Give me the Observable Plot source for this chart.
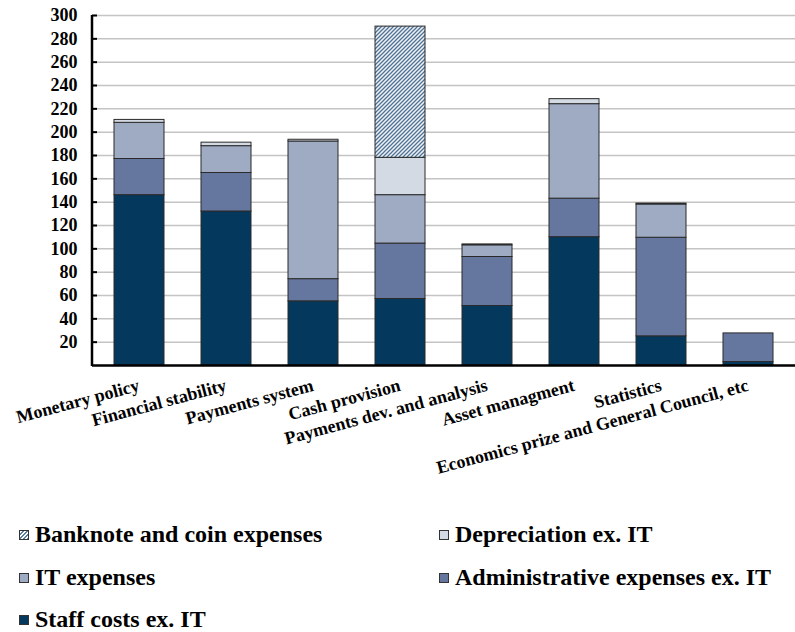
<!DOCTYPE html>
<html>
<head>
<meta charset="utf-8">
<script src="https://cdn.jsdelivr.net/npm/d3@7"></script>
<script src="https://cdn.jsdelivr.net/npm/@observablehq/plot@0.6"></script>
<style>
  html, body { margin: 0; padding: 0; background: #fff; }
  body { width: 795px; height: 632px; position: relative; overflow: hidden;
         font-family: "Liberation Serif", Tinos, "DejaVu Serif", serif; }
  #chart { position: absolute; left: 0; top: 0; }
  .lg-item { position: absolute; font-size: 24px; font-weight: bold; color: #000; line-height: 1; white-space: nowrap; }
  .lg-sw { position: absolute; width: 10px; height: 10px; border: 1px solid #333; box-sizing: border-box; }
</style>
</head>
<body>
<div id="chart"></div>
<div id="legend"></div>
<script>
const categories = [
  "Monetary policy",
  "Financial stability",
  "Payments system",
  "Cash provision",
  "Payments dev. and analysis",
  "Asset managment",
  "Statistics",
  "Economics prize and General Council, etc"
];
const seriesNames = [
  "Staff costs ex. IT",
  "Administrative expenses ex. IT",
  "IT expenses",
  "Depreciation ex. IT",
  "Banknote and coin expenses"
];
const staffCosts     = [146, 132, 55, 57, 51, 110, 25, 3];
const adminExpenses  = [31, 33, 19, 47.5, 42, 33, 84.5, 24.5];
const itExpenses     = [31, 23, 118, 41.5, 10, 81, 28.5, 0];
const depreciation   = [2.5, 3, 1.5, 32, 0.8, 4.3, 0.8, 0];
const banknoteCoin   = [0, 0, 0, 112.5, 0, 0, 0, 0];
const seriesValues = [staffCosts, adminExpenses, itExpenses, depreciation, banknoteCoin];
const seriesColors = ["#04385c", "#65779e", "#9eabc2", "#d4dae3", "url(#hatch)"];
const yTicks = [20, 40, 60, 80, 100, 120, 140, 160, 180, 200, 220, 240, 260, 280, 300];

const data = seriesNames.flatMap((s, i) =>
  categories.map((c, j) => ({category: c, series: s, value: seriesValues[i][j]}))
).filter(d => d.value > 0);

const FONT = '"Liberation Serif", Tinos, "DejaVu Serif", serif';

const svg = Plot.plot({
  width: 795,
  height: 480,
  marginTop: 15,
  marginBottom: 115,
  marginLeft: 92,
  marginRight: 0,
  style: {fontFamily: FONT, background: "white", overflow: "visible"},
  x: {domain: categories, paddingInner: 0.43, paddingOuter: 0.215, axis: null},
  y: {domain: [0, 300], axis: null},
  color: {type: "ordinal", domain: seriesNames, range: seriesColors},
  marks: [
    Plot.gridY(yTicks, {stroke: "#c4c4c4", strokeOpacity: 1, strokeWidth: 1.5}),
    Plot.barY(data, {x: "category", y: "value", fill: "series", order: seriesNames,
                     stroke: "#2a2a2a", strokeWidth: 1}),
    Plot.axisY({ticks: yTicks, tickSize: 0, tickPadding: 15, fontSize: 18, fontWeight: "bold",
                fill: "black", label: null}),
    Plot.axisY({ticks: yTicks, tickSize: 5, dx: 5, tickFormat: () => "", stroke: "black",
                strokeWidth: 2, label: null}),
    Plot.ruleY([0], {stroke: "black", strokeWidth: 2.5}),
    Plot.text(categories, {x: d => d, frameAnchor: "bottom", rotate: -15, textAnchor: "end",
                           lineAnchor: "bottom", dy: 25, dx: 1, fontSize: 18, fontWeight: "bold",
                           fill: "black", fontFamily: FONT})
  ]
});

// hatch pattern for banknote expenses
d3.select(svg).insert("defs", ":first-child").html(
  '<pattern id="hatch" patternUnits="userSpaceOnUse" width="4" height="4">' +
  '<rect width="4" height="4" fill="#eef2f6"/>' +
  '<path d="M-1,1 L1,-1 M0,4 L4,0 M3,5 L5,3" stroke="#4f7295" stroke-width="1.3"/>' +
  '</pattern>'
);

// left axis line along frame edge, using the y scale
const ys = svg.scale("y");
d3.select(svg).append("line")
  .attr("x1", 92).attr("x2", 92)
  .attr("y1", ys.apply(300)).attr("y2", ys.apply(0) + 1)
  .attr("stroke", "black").attr("stroke-width", 2.5);

document.getElementById("chart").appendChild(svg);

// legend
const legendLayout = [
  {name: seriesNames[4], col: 0, row: 0},
  {name: seriesNames[3], col: 1, row: 0},
  {name: seriesNames[2], col: 0, row: 1},
  {name: seriesNames[1], col: 1, row: 1},
  {name: seriesNames[0], col: 0, row: 2}
];
const legend = document.getElementById("legend");
legendLayout.forEach(item => {
  const idx = seriesNames.indexOf(item.name);
  const x0 = item.col === 0 ? 19 : 439;
  const y0 = 524 + item.row * 42.5;
  const sw = document.createElement("div");
  sw.className = "lg-sw";
  sw.style.left = x0 + "px";
  sw.style.top = (y0 + 6) + "px";
  if (idx === 4) {
    sw.style.background = "repeating-linear-gradient(135deg, #ffffff 0px, #ffffff 1.5px, #5b7ea1 1.5px, #5b7ea1 3px)";
  } else {
    sw.style.background = seriesColors[idx];
  }
  legend.appendChild(sw);
  const t = document.createElement("div");
  t.className = "lg-item";
  t.style.left = (x0 + 16) + "px";
  t.style.top = (y0 - 2) + "px";
  t.textContent = item.name;
  legend.appendChild(t);
});
</script>
</body>
</html>
